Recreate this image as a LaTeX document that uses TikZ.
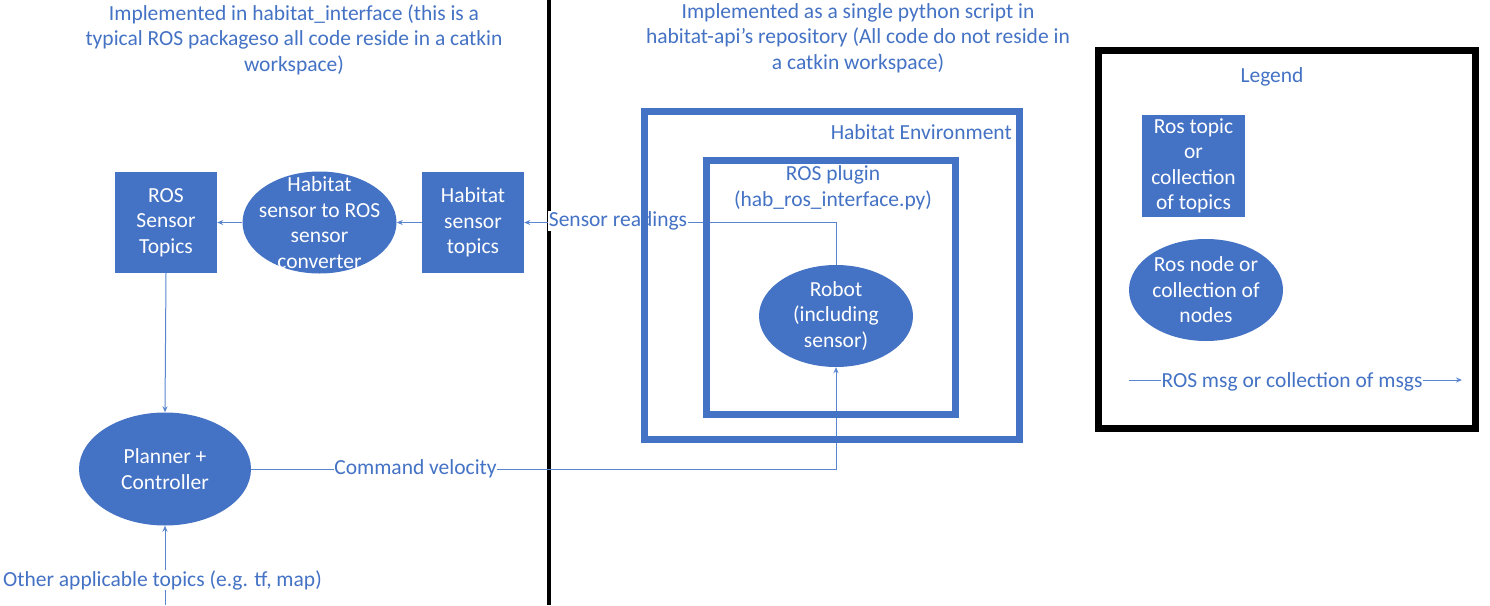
\documentclass[tikz,border=0pt]{standalone}
\usepackage{fontspec}
\setmainfont{Carlito}
\usetikzlibrary{shapes.geometric,arrows.meta}
\definecolor{msblue}{HTML}{4472C4}
\definecolor{lineblue}{HTML}{5A85CF}
\tikzset{
  txt/.style={font=\fontsize{21.5}{25.5}\selectfont, align=center, inner sep=1pt},
  topicbox/.style={txt, rectangle, fill=msblue, text=white, minimum width=102pt, minimum height=101pt, inner sep=0pt},
  rosnode/.style={txt, ellipse, fill=msblue, text=white, inner sep=0pt},
  frame/.style={rectangle, draw=msblue, line width=7pt, inner sep=0pt},
  lbl/.style={txt, text=msblue},
  clbl/.style={txt, text=msblue, fill=white, inner sep=0.5pt},
  conn/.style={draw=lineblue, line width=1pt, -{Stealth[length=6pt,width=5pt]}},
}
\begin{document}
\begin{tikzpicture}[x=1pt,y=-1pt]
\path[fill=white,use as bounding box] (0,0) rectangle (1490,605);

% divider
\coordinate (dtop) at (549,0);
\coordinate (dbot) at (549,605);
\draw[line width=4pt, black] (dtop) -- (dbot);

% headings
\node[lbl] (lefthead) at (294,39.5) {Implemented in habitat\_interface (this is a\\typical ROS packageso all code reside in a catkin\\workspace)};
\node[lbl] (righthead) at (858,38) {Implemented as a single python script in\\habitat-api’s repository (All code do not reside in\\a catkin workspace)};

% main nodes
\node[topicbox] (rst) at (166,222.5) {ROS\\Sensor\\Topics};
\node[rosnode, minimum width=154pt, minimum height=102pt] (conv) at (319.5,222.5) {};
\node[txt, text=white] (convtxt) at (319.5,222.5) {Habitat\\sensor to ROS\\sensor\\converter};
\node[topicbox] (hst) at (473,222.5) {Habitat\\sensor\\topics};
\node[rosnode, minimum width=172pt, minimum height=113pt] (planner) at (165,469) {Planner +\\Controller};
\node[rosnode, minimum width=154pt, minimum height=102pt] (robot) at (836,316) {Robot\\(including\\sensor)};

% connectors
\draw[conn] (hst.west) -- (conv.east);
\draw[conn] (conv.west) -- (rst.east);
\draw[conn] (rst.south) -- (planner.north);
\draw[conn] (robot.north) |- (hst.east);
\draw[conn] (planner.east) -| (robot.south);
\coordinate (other) at (165,605);
\draw[conn] (other) -- (planner.south);

\node[clbl] (lsr) at (618,221) {Sensor readings};
\node[clbl] (lcv) at (415.5,469) {Command velocity};
\node[clbl] (lot) at (162.5,580) {Other applicable topics (e.g. tf, map)};

% frames
\node[frame, minimum width=375pt, minimum height=328pt] (env) at (831.5,275) {};
\node[frame, minimum width=249pt, minimum height=254pt] (plugin) at (831,287.5) {};
\node[lbl, anchor=east] (envlbl) at (1013,132) {Habitat Environment};
\node[lbl] (pluglbl) at (833,188) {ROS plugin\\(hab\_ros\_interface.py)};

% legend
\node[frame, draw=black, minimum width=377pt, minimum height=378pt] (legend) at (1287,239.5) {};
\node[lbl] (legtitle) at (1272,77) {Legend};
\node[topicbox, minimum width=103pt, minimum height=102pt] (legtopic) at (1193.5,166) {Ros topic\\or\\collection\\of topics};
\node[rosnode, minimum width=154pt, minimum height=102pt] (legnode) at (1206,290) {Ros node or\\collection of\\nodes};
\coordinate (la1) at (1129,380);
\coordinate (la2) at (1462,380);
\draw[conn] (la1) -- (la2);
\node[clbl] (legmsg) at (1292,382) {ROS msg or collection of msgs};
\end{tikzpicture}
\end{document}
